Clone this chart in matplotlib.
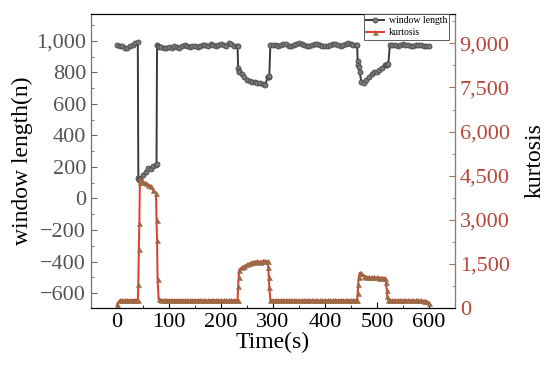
from matplotlib import pyplot as plt
from matplotlib.ticker import FuncFormatter, MultipleLocator
import numpy as np

plt.rcParams['font.family'] = ['Liberation Serif', 'DejaVu Serif']

#Sample times (s)
time = [
    0, 5, 10, 15, 20, 25, 30, 35, 40,
    41, 42, 43, 44, 45, 50, 55, 60, 65, 70, 75, 76, 77, 78,
    80, 85, 90, 95, 100, 105, 110, 115, 120, 125, 130, 135, 140, 145, 150,
    155, 160, 165, 170, 175, 180, 185, 190, 195, 200, 205, 210, 215, 220,
    225, 230, 232,
    233, 234, 235, 240, 245, 250, 255, 260, 265, 270, 275, 280, 285, 290,
    291, 292, 293, 295,
    300, 305, 310, 315, 320, 325, 330, 335, 340, 345, 350, 355, 360, 365,
    370, 375, 380, 385, 390, 395, 400, 405, 410, 415, 420, 425, 430, 435,
    440, 445, 450, 455, 460, 462,
    463, 464, 465, 467, 470, 475, 480, 485, 490, 495, 500, 505, 510, 515,
    517, 519, 520, 522, 525,
    530, 535, 540, 545, 550, 555, 560, 565, 570, 575, 580, 585, 590, 595, 600,
]

#Window length (n), left axis
window_length = [
    972, 970, 965, 952, 958, 970, 975, 985, 995,
    130, 125, 120, 118, 125, 150, 170, 195, 185, 205, 215, 220, 975, 968,
    962, 960, 955, 958, 962, 958, 965, 962, 958, 965, 972, 968, 962, 966, 970,
    962, 968, 975, 972, 970, 978, 972, 968, 975, 980, 972, 968, 985, 978,
    970, 965, 965,
    830, 810, 800, 790, 770, 750, 745, 740, 738, 735, 732, 728, 718, 770,
    770, 772, 775, 975,
    975, 972, 968, 975, 980, 978, 970, 965, 972, 978, 985, 980, 975, 970,
    968, 972, 978, 982, 975, 970, 965, 968, 975, 980, 978, 972, 968, 975,
    982, 985, 978, 975, 972, 975,
    870, 850, 835, 800, 740, 735, 755, 770, 790, 800, 805, 815, 830, 845,
    848, 850, 852, 855, 975,
    975, 972, 970, 975, 978, 975, 972, 970, 968, 972, 975, 972, 970, 968, 965,
]

#Kurtosis, right axis
kurtosis = [
    130, 260, 265, 270, 272, 268, 270, 275, 280,
    800, 2000, 2900, 4300, 4400, 4300, 4250, 4200, 4150, 4000, 3900, 3000, 2300, 1000,
    300, 275, 270, 268, 272, 270, 265, 268, 270, 272, 268, 265, 262, 265, 268,
    270, 266, 264, 262, 265, 268, 270, 268, 265, 262, 260, 262, 265, 268,
    270, 272, 280,
    750, 1050, 1300, 1380, 1420, 1480, 1520, 1550, 1580, 1590, 1570, 1600, 1610, 1590,
    1390, 1050, 710, 280,
    270, 268, 265, 262, 265, 268, 270, 266, 262, 260, 262, 265, 268, 270,
    268, 265, 262, 260, 262, 265, 268, 266, 264, 262, 265, 268, 270, 268,
    265, 262, 265, 268, 270, 272,
    500, 800, 1050, 1200, 1180, 1100, 1060, 1050, 1045, 1040, 1040, 1035, 1030, 1020,
    900, 600, 400, 280, 270,
    270, 268, 265, 262, 265, 268, 266, 264, 262, 260, 258, 255, 250, 240, 180,
]

def commas(v, pos):
    s = '{:,.0f}'.format(abs(v))
    return ('\u2212' + s) if v < 0 else s

fig = plt.figure(figsize = [5.5, 3.75], dpi = 100)
ax = fig.add_axes([0.1655, 0.1787, 0.6615, 0.784])
ax2 = ax.twinx()

l1, = ax.plot(time, window_length, color = '#3a3a3a', lw = 1.4, marker = 'o', ms = 3.6,
              mfc = '#7a7a7a', mec = '#4a4a4a', mew = 0.6, label = 'window length')
l2, = ax2.plot(time, kurtosis, color = '#e2392f', lw = 1.4, marker = '^', ms = 3.6,
               mfc = '#9a6a45', mec = '#9a6a45', mew = 0.4, label = 'kurtosis')

ax.set_xlim(-50, 650)
ax.set_ylim(-695, 1171)
ax2.set_ylim(0, 10000)

ax.xaxis.set_major_locator(MultipleLocator(100))
ax.xaxis.set_minor_locator(MultipleLocator(50))
ax.yaxis.set_major_locator(MultipleLocator(200))
ax.yaxis.set_minor_locator(MultipleLocator(100))
ax2.yaxis.set_major_locator(MultipleLocator(1500))
ax2.yaxis.set_minor_locator(MultipleLocator(750))
ax.yaxis.set_major_formatter(FuncFormatter(commas))
ax2.yaxis.set_major_formatter(FuncFormatter(commas))

ax.tick_params(axis = 'x', which = 'both', direction = 'in', labelsize = 16, length = 4)
ax.tick_params(axis = 'x', which = 'minor', length = 2.5)
ax.tick_params(axis = 'y', which = 'both', direction = 'in', labelsize = 16, length = 4,
               colors = '#666666', labelcolor = '#555555')
ax.tick_params(axis = 'y', which = 'minor', length = 2.5)
ax2.tick_params(axis = 'y', which = 'both', direction = 'in', labelsize = 16, length = 4,
                colors = '#a0785a', labelcolor = '#b5483a')
ax2.tick_params(axis = 'y', which = 'minor', length = 2.5)

ax2.spines['left'].set_color('#777777')
ax2.spines['right'].set_color('#a0785a')
for a in (ax, ax2):
    a.spines['top'].set_color('black')
    a.spines['bottom'].set_color('black')

ax.set_xlabel('Time(s)', fontsize = 17, labelpad = 0)
ax.set_ylabel('window length(n)', fontsize = 17, labelpad = 2)
ax2.set_ylabel('kurtosis', fontsize = 17, labelpad = 11)

leg = ax2.legend([l1, l2], ['window length', 'kurtosis'], loc = 'upper right',
                 bbox_to_anchor = (0.985, 1.0), borderaxespad = 0, fontsize = 7,
                 fancybox = False, framealpha = 1, edgecolor = '#444444',
                 handlelength = 1.8, handletextpad = 0.5, borderpad = 0.25,
                 labelspacing = 0.3)
leg.get_frame().set_linewidth(0.6)

fig.savefig('out.png', dpi = 100)
